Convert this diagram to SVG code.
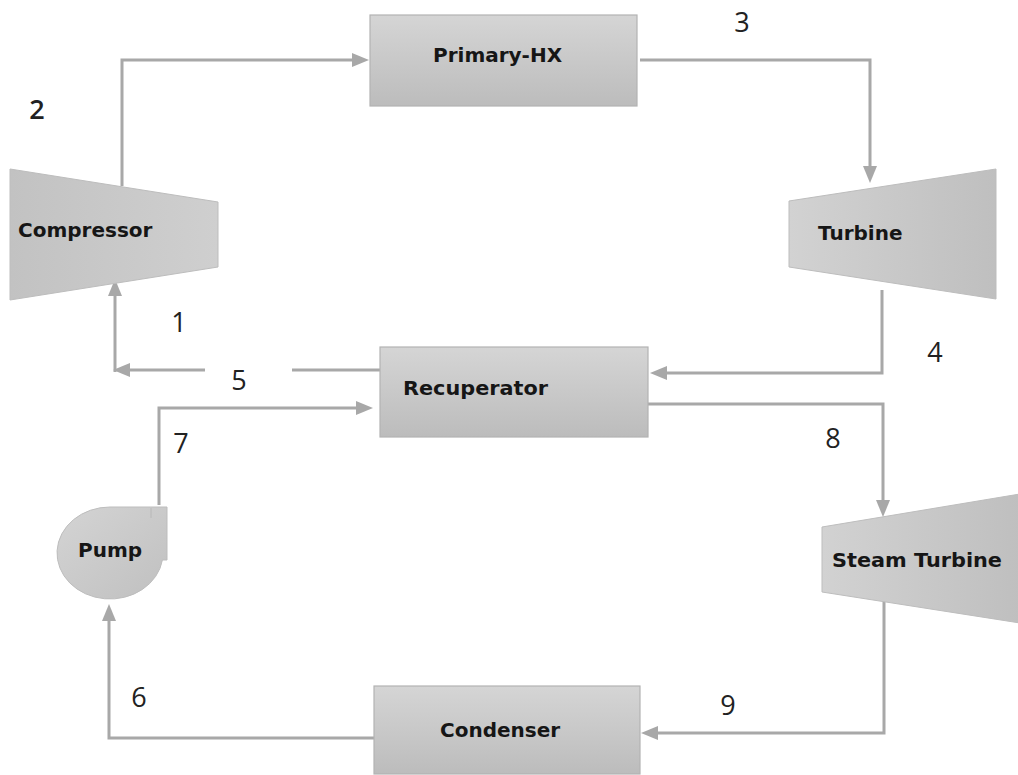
<svg xmlns="http://www.w3.org/2000/svg" width="1018" height="775" viewBox="0 0 1018 775">
  <style>
    .node-label { font-family: "DejaVu Sans", Verdana, sans-serif; font-weight: bold; font-size: 20px; fill: #161616; }
    .num { font-family: "Open Sans", "Liberation Sans", sans-serif; font-size: 27px; fill: #222; text-anchor: middle; }
    .conn { fill: none; stroke: #a8a8a8; stroke-width: 3; marker-end: url(#arrow); }
    .plain { fill: none; stroke: #a8a8a8; stroke-width: 3; }
    .box { fill: url(#boxGrad); stroke: #b3b3b3; stroke-width: 1.2; }
    .trapL { fill: url(#trapGradL); stroke: #bdbdbd; stroke-width: 1; }
    .trapR { fill: url(#trapGradR); stroke: #bdbdbd; stroke-width: 1; }
  </style>
  <defs>
    <marker id="arrow" markerUnits="userSpaceOnUse" viewBox="0 0 17 14" markerWidth="17" markerHeight="14" refX="3" refY="7" orient="auto">
      <path d="M0,0 L17,7 L0,14 z" fill="#a8a8a8"/>
    </marker>
    <linearGradient id="boxGrad" x1="0" y1="0" x2="0" y2="1">
      <stop offset="0" stop-color="#d5d5d5"/>
      <stop offset="1" stop-color="#bcbcbc"/>
    </linearGradient>
    <linearGradient id="trapGradL" x1="0" y1="0" x2="1" y2="0">
      <stop offset="0" stop-color="#c2c2c2"/>
      <stop offset="1" stop-color="#cfcfcf"/>
    </linearGradient>
    <linearGradient id="trapGradR" x1="0" y1="0" x2="1" y2="0">
      <stop offset="0" stop-color="#d2d2d2"/>
      <stop offset="1" stop-color="#bfbfbf"/>
    </linearGradient>
    <linearGradient id="pumpGrad" x1="0" y1="0" x2="1" y2="1">
      <stop offset="0" stop-color="#d4d4d4"/>
      <stop offset="1" stop-color="#c0c0c0"/>
    </linearGradient>
  </defs>

  <g id="connectors">
    <path class="conn" d="M122,186 V60 H355"/>
    <path class="conn" d="M640,60 H870 V169"/>
    <path class="conn" d="M882,290 V373 H664"/>
    <path class="plain" d="M380,370 H292"/>
    <path class="conn" d="M205,370 H127"/>
    <path class="conn" d="M115,372 V293"/>
    <path class="conn" d="M159,505 V408 H359"/>
    <path class="conn" d="M648,404 H883 V503"/>
    <path class="conn" d="M884,590 V733 H655"/>
    <path class="conn" d="M374,738 H109 V618"/>
  </g>

  <g id="compressor">
    <polygon class="trapL" points="10,169 218,202 218,267 10,300"/>
    <text class="node-label" x="18" y="237">Compressor</text>
  </g>

  <g id="primary-hx">
    <rect class="box" x="370" y="15" width="267" height="91"/>
    <text class="node-label" x="433" y="62">Primary-HX</text>
  </g>

  <g id="turbine">
    <polygon class="trapR" points="789,201 996,169 996,299 789,267"/>
    <text class="node-label" x="818" y="240">Turbine</text>
  </g>

  <g id="recuperator">
    <rect class="box" x="380" y="347" width="268" height="90"/>
    <text class="node-label" x="403" y="395" textLength="145" lengthAdjust="spacingAndGlyphs">Recuperator</text>
  </g>

  <g id="pump">
    <path d="M110,507 H167 V560 L162.4,560 A53,46 0 1 1 110,507 Z" fill="url(#pumpGrad)" stroke="#bdbdbd" stroke-width="1"/>
    <path d="M151,508 V518" stroke="#b8b8b8" stroke-width="1" fill="none"/>
    <text class="node-label" x="78" y="557">Pump</text>
  </g>

  <g id="steam-turbine">
    <polygon class="trapR" points="822,527 1020,494 1020,623 822,592"/>
    <text class="node-label" x="832" y="567" textLength="170" lengthAdjust="spacingAndGlyphs">Steam Turbine</text>
  </g>

  <g id="condenser">
    <rect class="box" x="374" y="686" width="266" height="88"/>
    <text class="node-label" x="440" y="737">Condenser</text>
  </g>

  <g id="labels">
    <text class="num" x="179" y="332">1</text>
    <text class="num" x="37" y="119" font-weight="600">2</text>
    <text class="num" x="742" y="32">3</text>
    <text class="num" x="935" y="362">4</text>
    <text class="num" x="239" y="390">5</text>
    <text class="num" x="139" y="707">6</text>
    <text class="num" x="181" y="453">7</text>
    <text class="num" x="833" y="448">8</text>
    <text class="num" x="728" y="715">9</text>
  </g>
</svg>
